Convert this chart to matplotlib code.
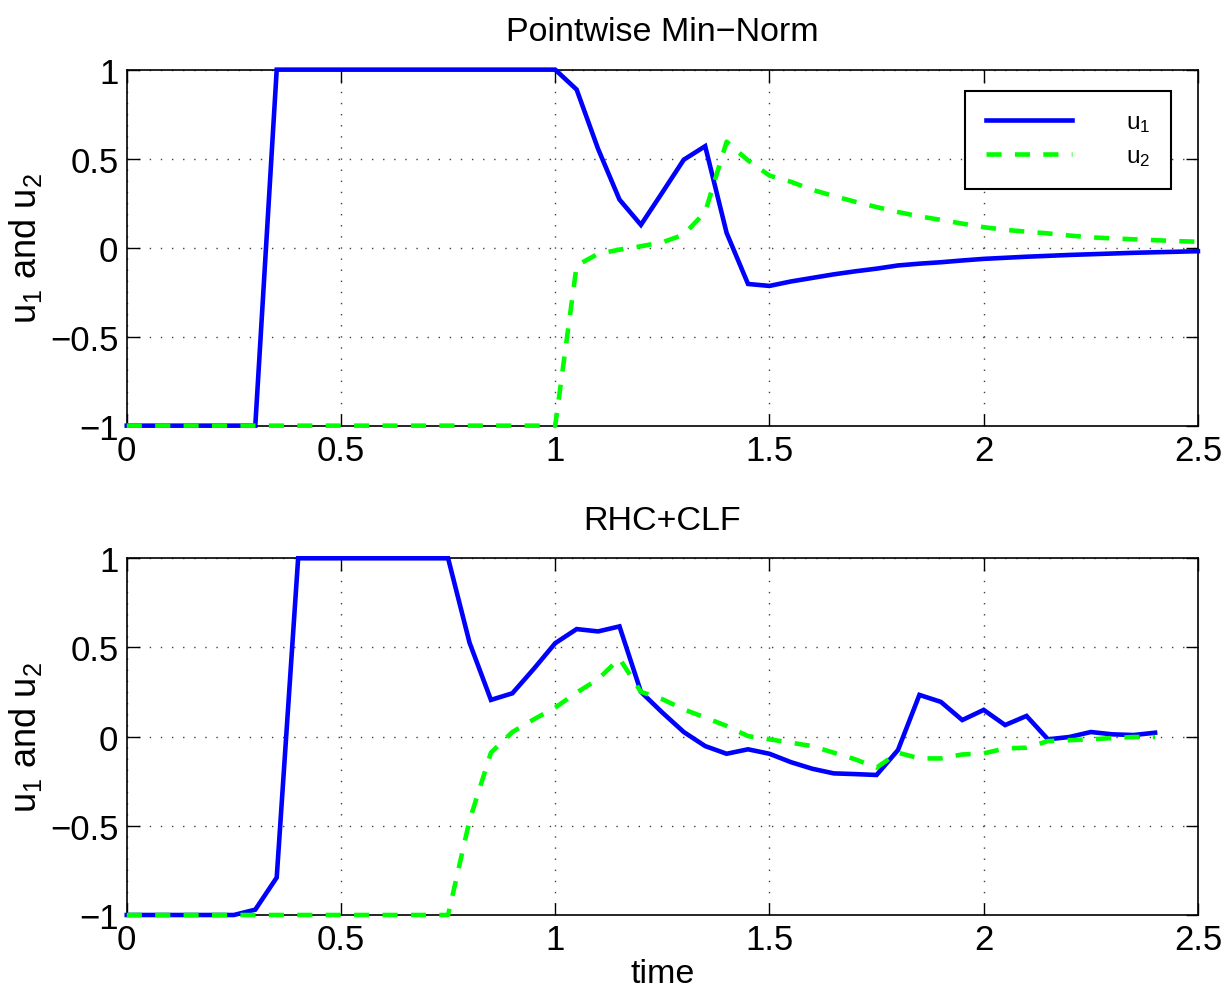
import matplotlib
matplotlib.use("Agg")
import matplotlib.pyplot as plt

plt.rcParams['font.family'] = ['Liberation Sans', 'DejaVu Sans']
plt.rcParams['mathtext.fontset'] = 'custom'
plt.rcParams['mathtext.rm'] = 'Liberation Sans'
plt.rcParams['mathtext.it'] = 'Liberation Sans'
plt.rcParams['mathtext.default'] = 'regular'

# ---------------- data ----------------
titles = ["Pointwise Min\u2212Norm", "RHC+CLF"]
ylabel = "u$_1$ and u$_2$"
xlabel = "time"
legend_labels = ["u$_1$", "u$_2$"]

xticks = [0, 0.5, 1, 1.5, 2, 2.5]
xticklabels = ["0", "0.5", "1", "1.5", "2", "2.5"]
yticks = [-1, -0.5, 0, 0.5, 1]
yticklabels = ["\u22121", "\u22120.5", "0", "0.5", "1"]

# Pointwise Min-Norm
top_t1 = [0, 0.30, 0.35, 1.00, 1.05, 1.10, 1.15, 1.20, 1.25, 1.30, 1.35, 1.40, 1.45,
          1.50, 1.55, 1.60, 1.65, 1.70, 1.75, 1.80, 1.85, 1.90, 1.95, 2.00,
          2.05, 2.10, 2.15, 2.20, 2.25, 2.30, 2.35, 2.40, 2.45, 2.50]
top_u1 = [-1, -1, 1, 1, 0.888, 0.555, 0.27, 0.128, 0.31, 0.494, 0.57, 0.083, -0.204,
          -0.215, -0.19, -0.17, -0.15, -0.133, -0.118, -0.10, -0.09, -0.082, -0.072, -0.063,
          -0.057, -0.051, -0.046, -0.041, -0.037, -0.033, -0.029, -0.026, -0.023, -0.02]
top_t2 = [0, 1.00, 1.05, 1.10, 1.15, 1.20, 1.25, 1.30, 1.35, 1.40, 1.45,
          1.50, 1.55, 1.60, 1.65, 1.70, 1.75, 1.80, 1.85, 1.90, 1.95, 2.00,
          2.05, 2.10, 2.15, 2.20, 2.25, 2.30, 2.35, 2.40, 2.45, 2.50]
top_u2 = [-1, -1, -0.10, -0.035, -0.011, 0.008, 0.03, 0.073, 0.2, 0.595, 0.49,
          0.405, 0.37, 0.325, 0.29, 0.258, 0.228, 0.2, 0.176, 0.156, 0.135, 0.115,
          0.1, 0.09, 0.08, 0.068, 0.058, 0.052, 0.047, 0.042, 0.037, 0.033]

# RHC+CLF
bot_t1 = [0, 0.25, 0.30, 0.35, 0.40, 0.75, 0.80, 0.85, 0.90, 0.95, 1.00, 1.05, 1.10,
          1.15, 1.20, 1.25, 1.30, 1.35, 1.40, 1.45, 1.50, 1.55, 1.60, 1.65, 1.70,
          1.75, 1.80, 1.85, 1.90, 1.95, 2.00, 2.05, 2.10, 2.15, 2.20, 2.25, 2.30,
          2.35, 2.40]
bot_u1 = [-1, -1, -0.97, -0.79, 1, 1, 0.527, 0.206, 0.243, 0.38, 0.524, 0.603, 0.59,
          0.618, 0.251, 0.135, 0.026, -0.053, -0.096, -0.071, -0.096, -0.143, -0.18,
          -0.206, -0.21, -0.215, -0.075, 0.234, 0.195, 0.093, 0.15, 0.065, 0.116,
          -0.015, -0.002, 0.026, 0.013, 0.009, 0.022]
bot_t2 = [0, 0.75, 0.80, 0.85, 0.90, 0.95, 1.00, 1.05, 1.10, 1.15, 1.20, 1.25, 1.30,
          1.35, 1.40, 1.45, 1.50, 1.55, 1.60, 1.65, 1.70, 1.75, 1.80, 1.85, 1.90,
          1.95, 2.00, 2.05, 2.10, 2.15, 2.20, 2.25, 2.30, 2.35, 2.40]
bot_u2 = [-1, -1, -0.47, -0.09, 0.026, 0.097, 0.163, 0.247, 0.322, 0.438, 0.251, 0.21,
          0.153, 0.107, 0.06, 0.003, -0.015, -0.034, -0.053, -0.09, -0.127, -0.174,
          -0.09, -0.122, -0.122, -0.1, -0.094, -0.066, -0.062, -0.025, -0.02, -0.015,
          -0.008, -0.002, -0.002]

# ---------------- figure ----------------
fig = plt.figure(figsize=(12.27, 9.95), dpi=100)
ax_top = fig.add_axes([0.1033, 0.5712, 0.8730, 0.3578])
ax_bot = fig.add_axes([0.1033, 0.0794, 0.8730, 0.3585])

blue = (0, 0, 1)
green = (0, 1, 0)
lw = 3.3
dash = (0, (3.3, 2.9))

panels = [
    (ax_top, titles[0], top_t1, top_u1, top_t2, top_u2),
    (ax_bot, titles[1], bot_t1, bot_u1, bot_t2, bot_u2),
]

for ax, title, t1, u1, t2, u2 in panels:
    ax.plot(t1, u1, color=blue, lw=lw, clip_on=False, zorder=3,
            solid_joinstyle='miter', label=legend_labels[0])
    ax.plot(t2, u2, color=green, lw=lw, linestyle=dash, clip_on=False,
            zorder=4, label=legend_labels[1])
    ax.set_xlim(0, 2.5)
    ax.set_ylim(-1, 1)
    ax.set_xticks(xticks)
    ax.set_xticklabels(xticklabels)
    ax.set_yticks(yticks)
    ax.set_yticklabels(yticklabels)
    ax.tick_params(direction='in', length=9, width=1, top=True, right=True,
                   labelsize=25, pad=6, colors='black')
    ax.tick_params(axis='y', pad=6)
    ax.grid(True, color='0.25', linestyle=(0, (1, 7)), linewidth=1.0)
    for sp in ax.spines.values():
        sp.set_linewidth(1.2)
        sp.set_color('black')
    ax.set_title(title, fontsize=24.5, pad=21)
    ax.set_ylabel(ylabel, fontsize=26, labelpad=4)

ax_bot.set_xlabel(xlabel, fontsize=24.5, labelpad=1)

leg = ax_top.legend(loc='upper right', bbox_to_anchor=(0.9745, 0.941),
                    borderaxespad=0, fontsize=17.5, frameon=True, fancybox=False,
                    edgecolor='black', framealpha=1, handlelength=3.55,
                    handletextpad=2.2, borderpad=0.85, labelspacing=0.45)
leg.get_frame().set_linewidth(1.5)

fig.savefig("out.png", dpi=100)
